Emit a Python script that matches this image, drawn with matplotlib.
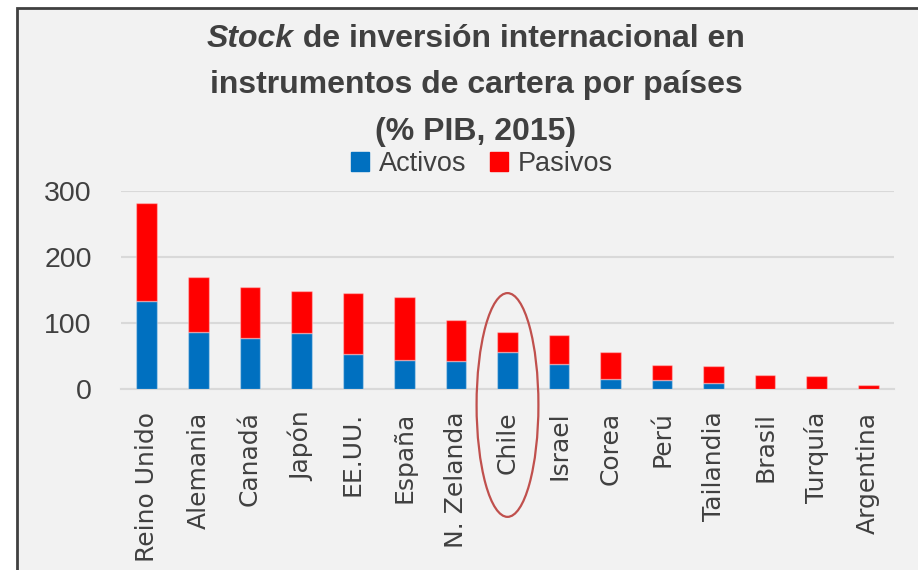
import numpy as np
import matplotlib.pyplot as plt
from matplotlib.patches import Patch, Rectangle, Ellipse

# Datos (% del PIB, 2015)
paises = ['Reino Unido', 'Alemania', 'Canadá', 'Japón', 'EE.UU.', 'España',
          'N. Zelanda', 'Chile', 'Israel', 'Corea', 'Perú', 'Tailandia',
          'Brasil', 'Turquía', 'Argentina']
activos = [133, 86, 78, 85, 53, 44, 42, 57, 38, 16, 14, 9, 0, 0, 0]
pasivos = [149, 83, 77, 64, 93, 95, 63, 29, 44, 40, 22, 26, 22, 20, 6.5]
yticks = [0, 100, 200, 300]
destacado = 'Chile'

W, H = 918, 570
gris = '#404040'

fig = plt.figure(figsize=(W / 100, H / 100), dpi=100, facecolor='white')

# marco del gráfico
fig.add_artist(Rectangle((17 / W, -0.1), 1.1, 1 - 8 / H + 0.1,
                         transform=fig.transFigure, facecolor='#f2f2f2',
                         edgecolor=gris, linewidth=2, zorder=-5))

ax = fig.add_axes([121 / W, 1 - 389.3 / H, (894 - 121) / W, (389.3 - 190.7) / H])
ax.patch.set_visible(False)

x = np.arange(len(paises))
ax.bar(x, activos, 0.4, color='#0070C0', edgecolor=(1, 1, 1, 0.35),
       linewidth=1, zorder=3)
ax.bar(x, pasivos, 0.4, bottom=activos, color='#FF0000',
       edgecolor=(1, 1, 1, 0.35), linewidth=1, zorder=3)

ax.set_xlim(-0.5, len(paises) - 0.5)
ax.set_ylim(yticks[0], yticks[-1])
ax.set_yticks(yticks)
ax.grid(axis='y', color='#d9d9d9', linewidth=1.5, zorder=0)
for s in ['top', 'right', 'left']:
    ax.spines[s].set_visible(False)
ax.spines['bottom'].set_color('#d9d9d9')
ax.spines['bottom'].set_linewidth(1.5)

ax.tick_params(axis='y', length=0, pad=21, labelsize=20.5, labelcolor=gris)
for t in ax.get_yticklabels():
    t.set_fontfamily('Liberation Sans')
ax.set_xticks(x)
ax.set_xticklabels(paises, rotation=90)
ax.tick_params(axis='x', length=0, pad=16, labelsize=18, labelcolor=gris)
for t in ax.get_xticklabels():
    t.set_fontfamily('DejaVu Sans')

# elipse sobre Chile
i = paises.index(destacado)
ax.add_patch(Ellipse((i, -23.7), 1.2, 338, fill=False, edgecolor='#C0504D',
                     linewidth=1.6, clip_on=False, zorder=5))

# título
fs = 23
fam = 'Liberation Sans'
cx = 476
y1 = 1 - 47 / H
t1a = fig.text(0, y1, 'Stock', fontsize=fs, fontweight='bold', style='italic',
               family=fam, color=gris, va='baseline')
t1b = fig.text(0, y1, ' de inversión internacional en', fontsize=fs,
               fontweight='bold', family=fam, color=gris, va='baseline')
r = fig.canvas.get_renderer()
wa = t1a.get_window_extent(r).width
wb = t1b.get_window_extent(r).width
x0 = cx - (wa + wb) / 2
t1a.set_x(x0 / W)
t1b.set_x((x0 + wa) / W)
fig.text(cx / W, 1 - 93 / H, 'instrumentos de cartera por países', fontsize=fs,
         fontweight='bold', family=fam, color=gris, ha='center', va='baseline')
fig.text(cx / W, 1 - 140 / H, '(% PIB, 2015)', fontsize=fs,
         fontweight='bold', family=fam, color=gris, ha='center', va='baseline')

fig.legend(handles=[Patch(color='#0070C0', label='Activos'),
                    Patch(color='#FF0000', label='Pasivos')],
           loc='center', bbox_to_anchor=(482 / W, 1 - 164 / H), ncol=2,
           frameon=False, prop={'family': 'Liberation Sans', 'size': 19.5},
           handlelength=0.66, handleheight=0.66, handletextpad=0.35,
           columnspacing=0.9, labelcolor=gris, borderpad=0)

plt.savefig('out.png', dpi=100)
